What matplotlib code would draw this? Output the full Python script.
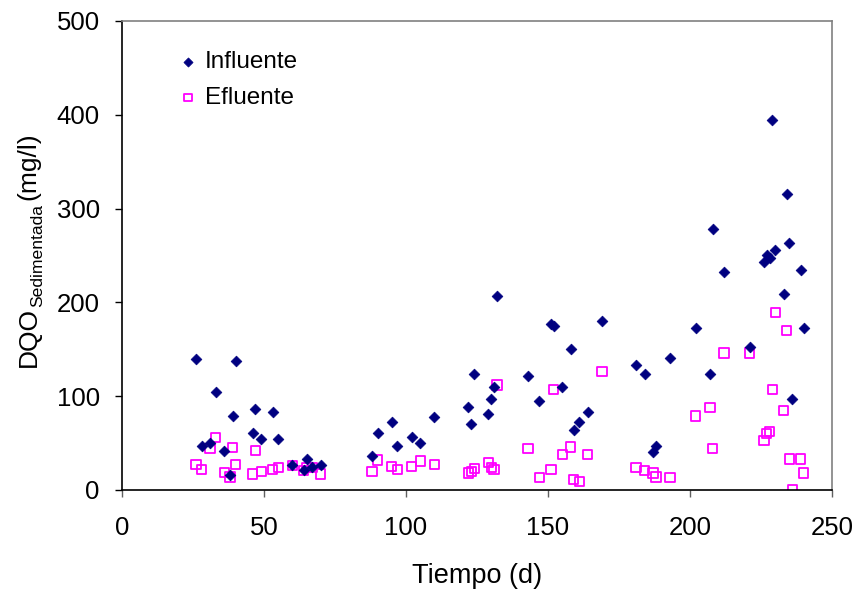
import matplotlib.pyplot as plt

plt.rcParams['font.family'] = ['Liberation Sans', 'DejaVu Sans']

# Influente
dias_inf = [26, 28, 31, 33, 36, 38, 39, 40, 46, 47, 49, 53, 55, 60, 64, 65, 67, 70,
            88, 90, 95, 97, 102, 105, 110, 122, 123, 124, 129, 130, 131, 132,
            143, 147, 151, 152, 155, 158, 159, 161, 164, 169,
            181, 184, 187, 188, 193, 202, 207, 208, 212, 221,
            226, 227, 228, 229, 230, 233, 234, 235, 236, 239, 240]
dqo_inf = [140, 47, 50, 104, 42, 16, 79, 137, 61, 86, 54, 83, 54, 27, 21, 33, 25, 27,
           36, 61, 72, 47, 56, 50, 78, 88, 70, 124, 81, 97, 110, 207,
           121, 95, 177, 175, 110, 150, 64, 72, 83, 180,
           133, 124, 40, 47, 141, 173, 124, 278, 232, 152,
           243, 251, 247, 394, 256, 209, 315, 263, 97, 234, 173]

# Efluente
dias_ef = [26, 28, 31, 33, 36, 38, 39, 40, 46, 47, 49, 53, 55, 60, 64, 65, 67, 70,
           88, 90, 95, 97, 102, 105, 110, 122, 123, 124, 129, 130, 131, 132,
           143, 147, 151, 152, 155, 158, 159, 161, 164, 169,
           181, 184, 187, 188, 193, 202, 207, 208, 212, 221,
           226, 227, 228, 229, 230, 233, 234, 235, 236, 239, 240]
dqo_ef = [27, 22, 44, 56, 19, 14, 45, 27, 17, 42, 20, 22, 24, 26, 21, 24, 24, 17,
          20, 32, 25, 22, 25, 31, 27, 18, 20, 23, 29, 24, 22, 112,
          44, 13, 22, 107, 38, 46, 11, 9, 38, 126,
          24, 21, 18, 14, 13, 79, 88, 44, 146, 146,
          53, 60, 62, 107, 189, 85, 170, 33, 0, 33, 18]

fig = plt.figure(figsize=(8.58, 5.90), dpi=100)
ax = fig.add_axes([0.1422, 0.1695, 0.8275, 0.795])

ax.scatter(dias_inf, dqo_inf, marker='D', s=30, c='#000080', edgecolors='#000080',
           linewidths=0.5, label='Influente', zorder=3)
ax.scatter(dias_ef, dqo_ef, marker='s', s=45, facecolors='none', edgecolors='#FF00FF',
           linewidths=1.3, label='Efluente', zorder=2)

ax.set_xlim(0, 250)
ax.set_ylim(0, 500)
ax.set_xticks([0, 50, 100, 150, 200, 250])
ax.set_yticks([0, 100, 200, 300, 400, 500])
ax.tick_params(direction='out', length=5, width=1, labelsize=18.5)
ax.tick_params(axis='x', pad=14, colors='#606060', labelcolor='black')
ax.tick_params(axis='y', pad=11, colors='black')
for s in ['left', 'bottom']:
    ax.spines[s].set_color('black')
    ax.spines[s].set_linewidth(1.2)
for s in ['top', 'right']:
    ax.spines[s].set_color('#808080')
    ax.spines[s].set_linewidth(1.2)

ax.set_xlabel('Tiempo (d)', fontsize=19.5, labelpad=16)

# y label built from pieces so the subscript can be sized like the original
t1 = fig.text(0.0192, 0.378, 'DQO', rotation=90, ha='left', va='bottom', fontsize=19)
t2 = ax.annotate('Sedimentada', xy=(1, 1), xycoords=t1, xytext=(3.7, 0),
                 textcoords='offset points', rotation=90, ha='right', va='bottom',
                 fontsize=12.6, annotation_clip=False)
t3 = ax.annotate('(mg/l)', xy=(1, 1), xycoords=(t1, t2), xytext=(0, 3),
                 textcoords='offset points', rotation=90, ha='right', va='bottom',
                 fontsize=19, annotation_clip=False)

leg = ax.legend(loc='upper left', bbox_to_anchor=(0.0793, 0.936), frameon=False,
                fontsize=17.5, handlelength=0.8, handletextpad=0.3, labelspacing=0.57,
                borderaxespad=0, borderpad=0, markerscale=0.85)

fig.savefig('out.png', dpi=100)
plt.close(fig)
